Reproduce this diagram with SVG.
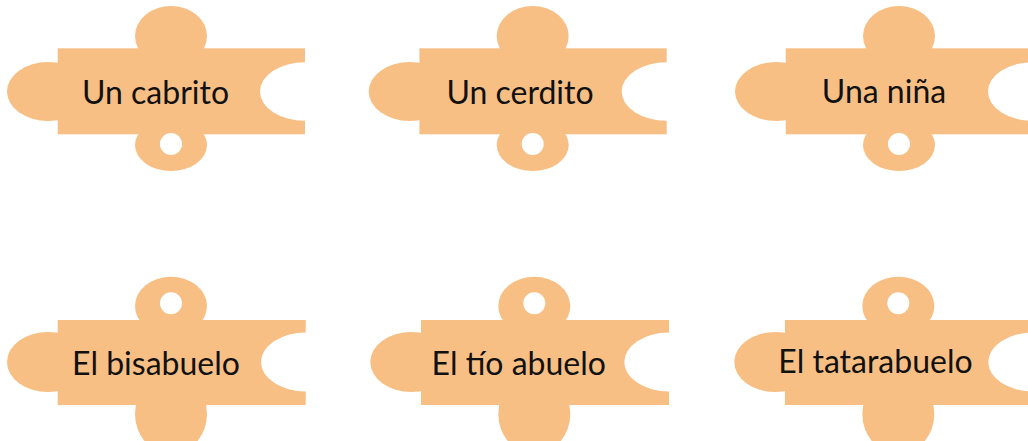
<svg xmlns="http://www.w3.org/2000/svg" xmlns:xlink="http://www.w3.org/1999/xlink" width="1028" height="441" viewBox="0 0 1028 441">
  <style>
    .p { fill: #F8BF85; }
    .cut { fill: #FFFFFF; }
    .lbl { font-family: Lato, "Liberation Sans", sans-serif; font-size: 32px; fill: #111111; text-anchor: middle; }
  </style>
  <defs>
    <g id="pieceTop">
      <ellipse class="p" cx="171" cy="36" rx="36" ry="30"/>
      <ellipse class="p" cx="171" cy="145" rx="36" ry="26"/>
      <ellipse class="p" cx="48" cy="91.5" rx="41" ry="29.5"/>
      <rect class="p" x="57.7" y="48.3" width="247.3" height="86"/>
      <ellipse class="cut" cx="305" cy="91.5" rx="45" ry="29.3"/>
      <circle class="cut" cx="171" cy="144" r="11"/>
    </g>
    <g id="pieceBottom">
      <ellipse class="p" cx="171" cy="306" rx="36" ry="29.3"/>
      <ellipse class="p" cx="171" cy="414" rx="36" ry="40"/>
      <ellipse class="p" cx="48" cy="362" rx="41" ry="30"/>
      <rect class="p" x="57.7" y="320" width="248" height="85"/>
      <ellipse class="cut" cx="305.7" cy="362" rx="44.7" ry="29.5"/>
      <circle class="cut" cx="171" cy="303.3" r="11"/>
    </g>
  </defs>
  <rect x="0" y="0" width="1028" height="441" fill="#FFFFFF"/>
  <g id="connectors"/>
  <g id="node-cabrito">
    <use xlink:href="#pieceTop" href="#pieceTop"/>
    <text class="lbl" x="155.5" y="104">Un cabrito</text>
  </g>
  <g id="node-cerdito" transform="translate(361.7,0)">
    <use xlink:href="#pieceTop" href="#pieceTop"/>
    <text class="lbl" x="158.3" y="104">Un cerdito</text>
  </g>
  <g id="node-nina" transform="translate(728,0)">
    <use xlink:href="#pieceTop" href="#pieceTop"/>
    <text class="lbl" x="156" y="103">Una niña</text>
  </g>
  <g id="node-bisabuelo">
    <use xlink:href="#pieceBottom" href="#pieceBottom"/>
    <text class="lbl" x="156" y="375">El bisabuelo</text>
  </g>
  <g id="node-tioabuelo" transform="translate(363.3,0)">
    <use xlink:href="#pieceBottom" href="#pieceBottom"/>
    <text class="lbl" x="155.5" y="375">El tío abuelo</text>
  </g>
  <g id="node-tatarabuelo" transform="translate(727.3,0)">
    <use xlink:href="#pieceBottom" href="#pieceBottom"/>
    <text class="lbl" x="148.2" y="373">El tatarabuelo</text>
  </g>
</svg>
